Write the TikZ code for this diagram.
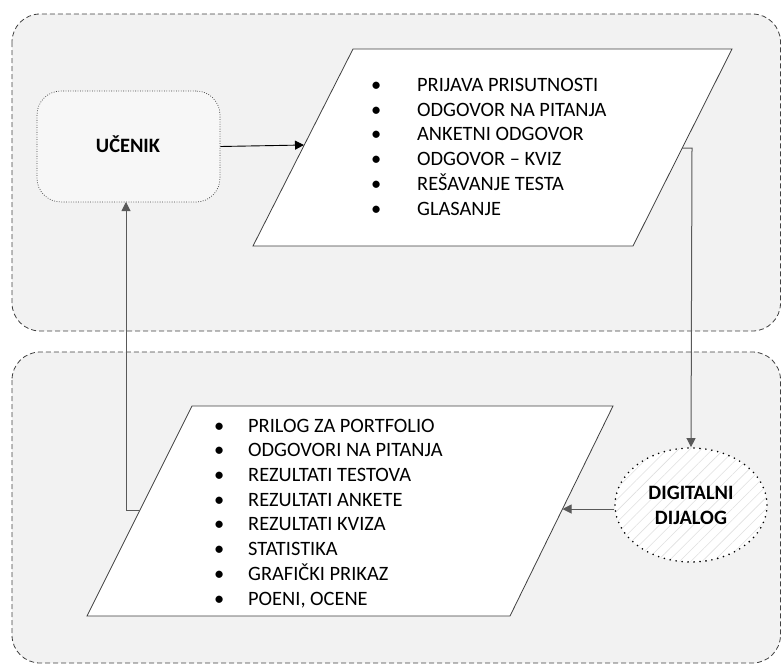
\documentclass[tikz,border=0pt]{standalone}
\usepackage{fontspec}
\setmainfont{Carlito}
\usetikzlibrary{arrows.meta,patterns.meta,shapes.geometric}
\definecolor{panel}{HTML}{F2F2F2}
\definecolor{panelline}{HTML}{404040}
\definecolor{conn}{HTML}{595959}
\tikzset{
  panelbox/.style={draw=panelline, dash pattern=on 5pt off 3pt, fill=panel, rounded corners=28pt, line width=0.8pt},
  para/.style={draw=black!75, fill=white, line width=0.8pt},
  listtext/.style={anchor=base west, align=left, inner sep=0pt, font=\fontsize{20.4}{24.7}\selectfont},
  conn/.style={draw=conn, line width=1pt},
  tip/.style={-{Triangle[length=9pt,width=9pt]}},
}
\newcommand{\bul}[1]{\makebox[#1][l]{\textbullet}}
\begin{document}
\begin{tikzpicture}[x=1pt,y=-1pt]
\useasboundingbox (0,0) rectangle (781,664);
% panels
\path[panelbox] (12,14) rectangle (780.5,331);
\path[panelbox] (12,352) rectangle (780.5,663);
% student
\node[draw=black!75, dash pattern=on 0.8pt off 1.6pt, fill=white!97!black, rounded corners=24pt, minimum width=183pt, minimum height=111pt, line width=0.7pt] (ucenik) at (128.5,146.5) {};
\node[font=\fontsize{20.4}{24}\selectfont\bfseries, anchor=base, inner sep=0pt] (ucenikt) at (128,152.7) {UČENIK};
% top parallelogram
\path[para] (353,49) coordinate (p1a) -- (732,49) coordinate (p1b) -- (633,246) coordinate (p1c) -- (253,246) coordinate (p1d) -- cycle;
\coordinate (p1in) at (304,145);
\coordinate (p1out) at (682,148);
\node[listtext] (list1) at (371,215) {\bul{46pt}PRIJAVA PRISUTNOSTI\\ \bul{46pt}ODGOVOR NA PITANJA\\ \bul{46pt}ANKETNI ODGOVOR\\ \bul{46pt}ODGOVOR – KVIZ\\ \bul{46pt}REŠAVANJE TESTA\\ \bul{46pt}GLASANJE};
% bottom parallelogram
\path[para] (192,406) coordinate (p2a) -- (613,406) coordinate (p2b) -- (510,616) coordinate (p2c) -- (87,616) coordinate (p2d) -- cycle;
\coordinate (p2in) at (562.5,509);
\coordinate (p2out) at (140,510);
\node[listtext] (list2) at (214,605) {\bul{34pt}PRILOG ZA PORTFOLIO\\ \bul{34pt}ODGOVORI NA PITANJA\\ \bul{34pt}REZULTATI TESTOVA\\ \bul{34pt}REZULTATI ANKETE\\ \bul{34pt}REZULTATI KVIZA\\ \bul{34pt}STATISTIKA\\ \bul{34pt}GRAFIČKI PRIKAZ\\ \bul{34pt}POENI, OCENE};
% digital dialog ellipse
\fill[white] (691,505) ellipse [x radius=76pt, y radius=57pt];
\path[pattern={Lines[angle=45,distance=8pt,line width=0.6pt]}, pattern color=black!12] (691,505) ellipse [x radius=76pt, y radius=57pt];
\node[ellipse, draw=black, line width=1.8pt, dash pattern=on 0pt off 6pt, line cap=round, minimum width=152pt, minimum height=114pt, inner sep=0pt] (dd) at (691,505) {};
\node[font=\fontsize{20.4}{24.7}\selectfont\bfseries, align=center, anchor=base, inner sep=0pt] (ddt) at (691,524) {DIGITALNI\\DIJALOG};
% connectors
\draw[line width=0.9pt, black, tip] (ucenik.east) -- (p1in);
\draw[conn, tip] (p1out) -- (692,148) -- (dd.north);
\draw[conn, tip] (dd.west |- 0,509) -- (p2in);
\draw[conn, tip] (p2out) -- (126,510) -- (126,202);
\end{tikzpicture}
\end{document}
